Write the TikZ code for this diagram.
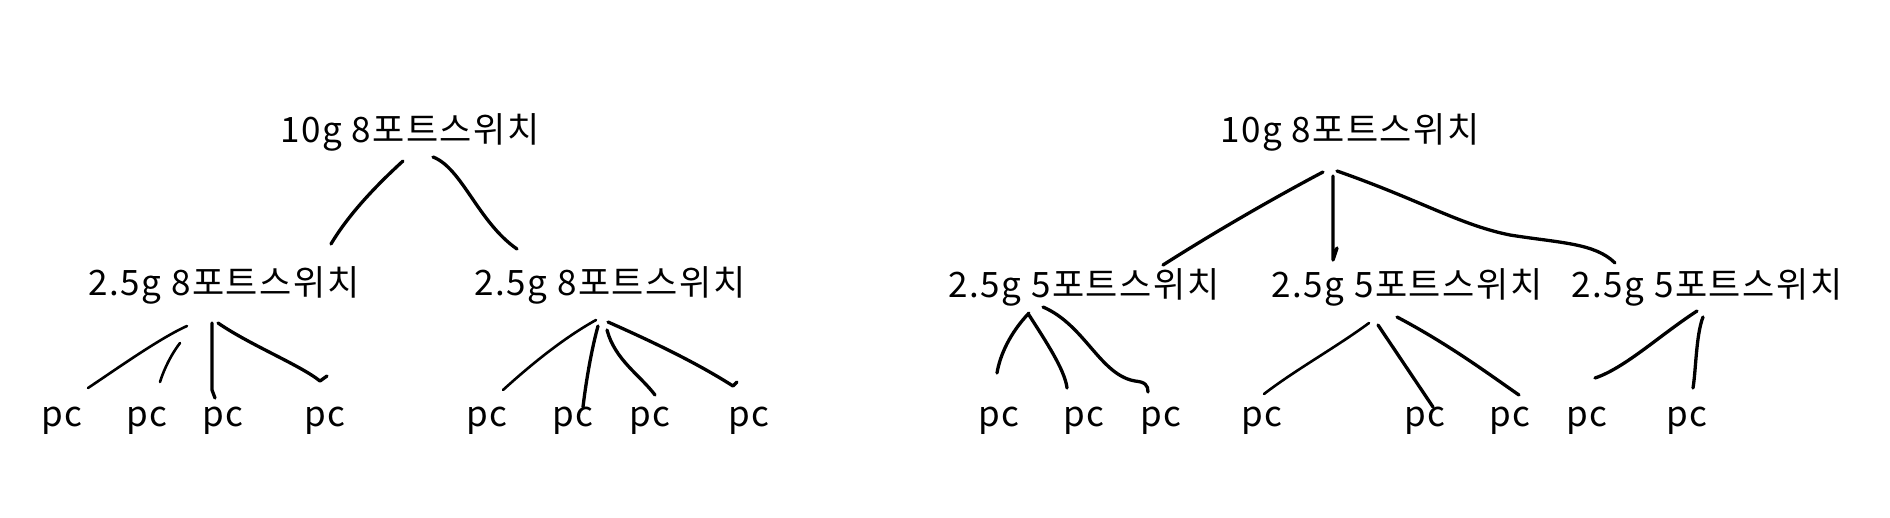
\documentclass[tikz,border=0pt]{standalone}
\usepackage{fontspec}
\newfontfamily\kfont[LetterSpace=4.5]{Noto Sans CJK KR}
\begin{document}
\begin{tikzpicture}[x=1pt,y=-1pt,
  lbl/.style={font=\kfont\fontsize{35}{40}\selectfont, inner sep=0pt, anchor=base},
  wire/.style={line width=3.3pt, line cap=round, line join=round, black},
  thinwire/.style={line width=2.6pt, line cap=round, line join=round, black}]
\useasboundingbox[fill=white] (0,0) rectangle (1890,517);
% ---- left tree ----
\node[lbl] (root1) at (410,142) {10g 8포트스위치};
\node[lbl] (s1) at (224,295) {2.5g 8포트스위치};
\node[lbl] (s2) at (610,295) {2.5g 8포트스위치};
\node[lbl] (p1) at (62,426) {pc};
\node[lbl] (p2) at (147,426) {pc};
\node[lbl] (p3) at (223,426) {pc};
\node[lbl] (p4) at (325,426) {pc};
\node[lbl] (p5) at (487,426) {pc};
\node[lbl] (p6) at (573,426) {pc};
\node[lbl] (p7) at (650,426) {pc};
\node[lbl] (p8) at (749,426) {pc};
% ---- right tree ----
\node[lbl] (root2) at (1350,142) {10g 8포트스위치};
\node[lbl] (t1) at (1084,297) {2.5g 5포트스위치};
\node[lbl] (t2) at (1407,297) {2.5g 5포트스위치};
\node[lbl] (t3) at (1707,297) {2.5g 5포트스위치};
\node[lbl] (q1) at (999,426) {pc};
\node[lbl] (q2) at (1084,426) {pc};
\node[lbl] (q3) at (1161,426) {pc};
\node[lbl] (q4) at (1262,426) {pc};
\node[lbl] (q5) at (1425,426) {pc};
\node[lbl] (q6) at (1510,426) {pc};
\node[lbl] (q7) at (1587,426) {pc};
\node[lbl] (q8) at (1687,426) {pc};
% ---- connector end points ----
\coordinate (a1s) at (403,161); \coordinate (a1e) at (331,244);
\coordinate (a2s) at (433,157); \coordinate (a2e) at (517,249);
\coordinate (b1s) at (187,326); \coordinate (b1e) at (88,388);
\coordinate (b2s) at (180,343); \coordinate (b2e) at (160,382);
\coordinate (b3s) at (212,323); \coordinate (b3e) at (215,398);
\coordinate (b4s) at (218,323); \coordinate (b4e) at (327,376);
\coordinate (c1s) at (596,320); \coordinate (c1e) at (503,390);
\coordinate (c2s) at (598,326); \coordinate (c2e) at (583,407);
\coordinate (c3s) at (607,330); \coordinate (c3e) at (655,395);
\coordinate (c4s) at (608,322); \coordinate (c4e) at (737,382);
\coordinate (d1s) at (1323,172); \coordinate (d1e) at (1163,265);
\coordinate (d2s) at (1333,176); \coordinate (d2e) at (1334,262);
\coordinate (d3s) at (1337,171); \coordinate (d3e) at (1615,263);
\coordinate (e1s) at (1029,313); \coordinate (e1e) at (997,373);
\coordinate (e2s) at (1029,315); \coordinate (e2e) at (1067,388);
\coordinate (e3s) at (1043,307); \coordinate (e3e) at (1148,392);
\coordinate (f1s) at (1369,323); \coordinate (f1e) at (1264,394);
\coordinate (f2s) at (1378,325); \coordinate (f2e) at (1433,407);
\coordinate (f3s) at (1397,317); \coordinate (f3e) at (1519,395);
\coordinate (g1s) at (1697,311); \coordinate (g1e) at (1595,378);
\coordinate (g2s) at (1703,317); \coordinate (g2e) at (1693,388);
% ---- left tree connectors ----
\draw[wire] (a1s) .. controls (380,182) and (350,212) .. (a1e);
\draw[wire] (a2s) .. controls (462,168) and (478,222) .. (a2e);
\draw[thinwire] (b1s) .. controls (160,338) and (115,370) .. (b1e);
\draw[thinwire] (b2s) .. controls (170,356) and (163,372) .. (b2e);
\draw[wire] (b3s) -- (212,390) -- (b3e);
\draw[wire] (b4s) .. controls (250,345) and (300,365) .. (320,381) -- (b4e);
\draw[thinwire] (c1s) .. controls (560,340) and (525,370) .. (c1e);
\draw[wire] (c2s) .. controls (590,355) and (585,390) .. (c2e);
\draw[wire] (c3s) .. controls (615,360) and (640,375) .. (c3e);
\draw[wire] (c4s) .. controls (660,345) and (700,365) .. (733,386) -- (c4e);
% ---- right tree connectors ----
\draw[wire] (d1s) .. controls (1270,200) and (1210,235) .. (d1e);
\draw[wire] (d2s) -- (1333,260) -- (1337,248);
\draw[wire] (d3s) .. controls (1420,200) and (1460,225) .. (1510,235)
                 .. controls (1560,243) and (1595,243) .. (d3e);
\draw[wire] (e1s) .. controls (1010,333) and (1000,355) .. (e1e);
\draw[wire] (e2s) .. controls (1045,340) and (1065,370) .. (e2e);
\draw[wire] (e3s) .. controls (1085,325) and (1100,375) .. (1135,381)
                 .. controls (1145,382) and (1148,385) .. (e3e);
\draw[thinwire] (f1s) .. controls (1335,348) and (1295,370) .. (f1e);
\draw[wire] (f2s) -- (f2e);
\draw[wire] (f3s) .. controls (1450,345) and (1490,375) .. (f3e);
\draw[wire] (g1s) .. controls (1660,335) and (1625,368) .. (g1e);
\draw[wire] (g2s) .. controls (1696,335) and (1696,370) .. (g2e);
\end{tikzpicture}
\end{document}
